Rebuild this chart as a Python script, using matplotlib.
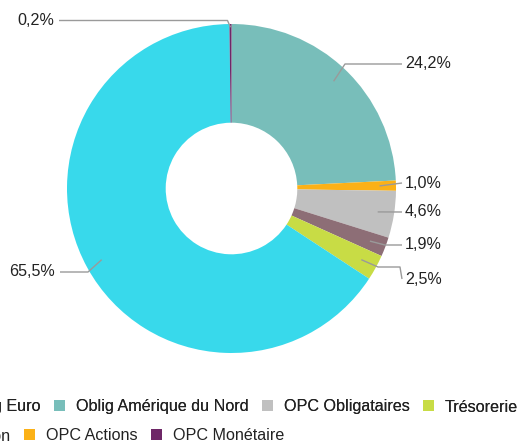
import numpy as np
import matplotlib.pyplot as plt

# =========================
# DATA
# =========================
labels = ["Oblig Amérique du Nord", "OPC Actions", "OPC Obligataires",
          "Oblig Japon", "Trésorerie", "Oblig Euro", "OPC Monétaire"]
values = [24.2, 1.0, 4.6, 1.9, 2.5, 65.5, 0.2]
colors = ["#78BEBA", "#FBB117", "#C0C0C0", "#8D6E76", "#C8DC45", "#38D9EB", "#6E2767"]

legend_row1 = ["Oblig Euro", "Oblig Amérique du Nord", "OPC Obligataires", "Trésorerie"]
legend_row2 = ["Oblig Japon", "OPC Actions", "OPC Monétaire"]

# =========================
# LAYOUT (pixels)
# =========================
W, H = 520, 441
CX, CY, R = 231.5, 188.5, 164.5
FONT = ["Liberation Sans", "DejaVu Sans"]
FS = 11.6
TXT = "#222222"
LINE = "#9a9a9a"

# label placement: (elbow points in px, text x, text y, ha)
label_layout = {
    "Oblig Amérique du Nord": ([(345, 64)], 405, 64, "left"),
    "OPC Actions": ([], 405, 183, "left"),
    "OPC Obligataires": ([], 405, 212, "left"),
    "Oblig Japon": ([(385, 245)], 405, 245, "left"),
    "Trésorerie": ([(378, 267), (400, 267)], 405, 279, "left"),
    "Oblig Euro": ([(88, 272)], 55, 272, "right"),
    "OPC Monétaire": ([(227.5, 20.5)], 54, 20.5, "right"),
}


def px(x, y):
    return (x - CX) / R, (CY - y) / R


plt.rcParams['font.family'] = FONT
fig = plt.figure(figsize=(W / 100, H / 100), dpi=100)
ax = fig.add_axes([0, 0, 1, 1])

wedges, _ = ax.pie(values, colors=colors, startangle=90, counterclock=False,
                   radius=1, wedgeprops=dict(width=0.6, linewidth=0))

# pie() resets the limits, so set them afterwards
ax.set_xlim(-CX / R, (W - CX) / R)
ax.set_ylim((CY - H) / R, CY / R)
ax.set_aspect('equal')
ax.axis('off')

# leader lines + labels
total = sum(values)
cum = 0
for lab, v in zip(labels, values):
    mid = 90 - 360 * (cum + v / 2) / total
    cum += v
    rr = 0.98 if v < 0.5 else 0.9
    ax_x, ax_y = rr * np.cos(np.radians(mid)), rr * np.sin(np.radians(mid))
    elbows, tx, ty, ha = label_layout[lab]
    pts = [(ax_x, ax_y)] + [px(*p) for p in elbows]
    end_x = tx - 3 if ha == "left" else tx + 5
    pts.append(px(end_x, ty))
    xs, ys = zip(*pts)
    ax.plot(xs, ys, color=LINE, lw=1, solid_capstyle='butt')
    lx, ly = px(tx, ty)
    ax.text(lx, ly, f"{v:.1f}%".replace(".", ","), ha=ha, va="center",
            fontsize=FS, color=TXT)

# legend (two rows, overflows the left edge like the original)
handles = dict(zip(labels, wedges))
common = dict(frameon=False, fontsize=FS, handlelength=0.69, handleheight=0.69,
              handletextpad=0.65, columnspacing=0.85, borderpad=0, borderaxespad=0,
              labelcolor=TXT)
leg1 = fig.legend([handles[l] for l in legend_row1], legend_row1, ncol=4,
                  loc="center right", bbox_to_anchor=(518 / W, 1 - 407 / H), **common)
fig.add_artist(leg1)
fig.legend([handles[l] for l in legend_row2], legend_row2, ncol=3,
           loc="center right", bbox_to_anchor=(284 / W, 1 - 436 / H), **common)

plt.savefig("out.png", dpi=100)
